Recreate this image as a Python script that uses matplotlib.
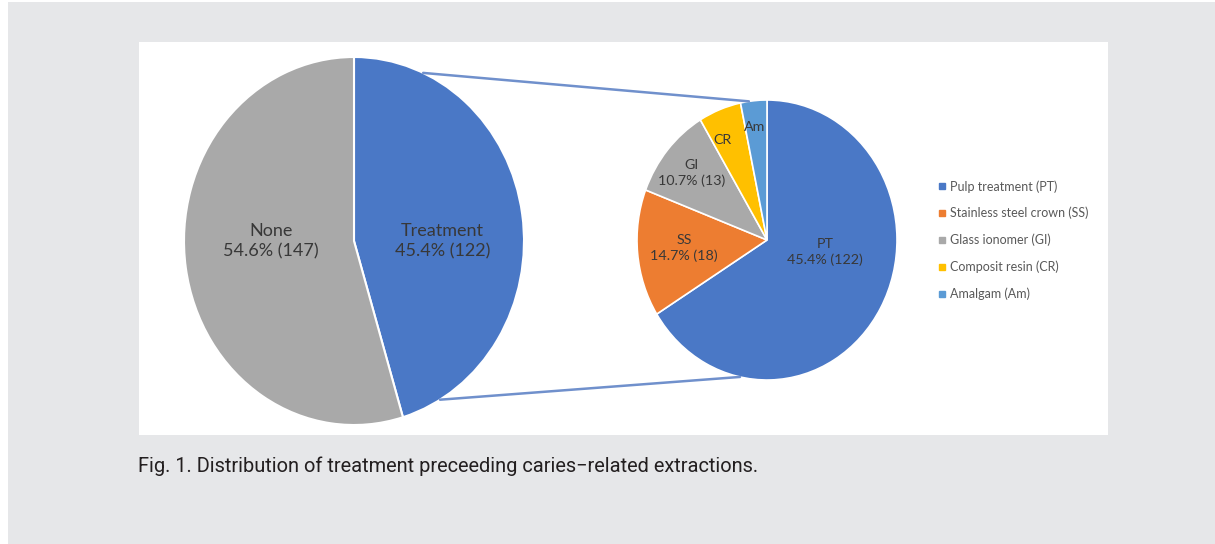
import numpy as np
import matplotlib
matplotlib.use('Agg')
import matplotlib.pyplot as plt
from matplotlib.patches import Rectangle, ConnectionPatch
from matplotlib.lines import Line2D

plt.rcParams['font.family'] = ['Lato', 'DejaVu Sans']

# data
main_labels = ['Treatment', 'None']
main_counts = [122, 147]
sub_labels = ['PT', 'SS', 'GI', 'CR', 'Am']
sub_sizes = [81, 18, 13, 6.5, 4]          # wedge sizes as drawn
sub_text = ['45.4% (122)', '14.7% (18)', '10.7% (13)', '', '']
legend_names = ['Pulp treatment (PT)', 'Stainless steel crown (SS)', 'Glass ionomer (GI)',
                'Composit resin (CR)', 'Amalgam (Am)']
caption = 'Fig. 1. Distribution of treatment preceeding caries\u2212related extractions.'

main_colors = ['#4a78c6', '#a9a9a9']
sub_colors = ['#4a78c6', '#ed7d31', '#a9a9a9', '#ffc000', '#5b9bd5']
txt_col = '#383838'

W, H = 1215, 544
fig = plt.figure(figsize=(W / 100, H / 100), dpi=100)
fig.patches.append(Rectangle((8 / W, 0), 1, 1 - 2 / H, transform=fig.transFigure,
                             facecolor='#e6e7e9', edgecolor='none', zorder=-2))
fig.patches.append(Rectangle((139 / W, 1 - 435 / H), (1108 - 139) / W, (435 - 42) / H,
                             transform=fig.transFigure, facecolor='white', edgecolor='none', zorder=-1))


def pie_axes(cx, cy, rx, ry):
    return fig.add_axes([(cx - rx) / W, 1 - (cy + ry) / H, 2 * rx / W, 2 * ry / H])


ax1 = pie_axes(354, 241, 170, 184)
ax1.pie(main_counts, colors=main_colors, startangle=90, counterclock=False, radius=1,
        wedgeprops=dict(edgecolor='white', linewidth=1.5))
ax1.set_aspect('auto')
ax1.set_xlim(-1, 1)
ax1.set_ylim(-1, 1)
ax1.axis('off')
total = sum(main_counts)
main_pos = [(0.52, 0.0), (-0.49, 0.0)]
for name, n, (x, y) in zip(main_labels, main_counts, main_pos):
    ax1.text(x, y, '%s\n%.1f%% (%d)' % (name, 100 * n / total, n), ha='center', va='center',
             fontsize=13, color=txt_col, linespacing=1.3)

ax2 = pie_axes(767, 240, 130, 140)
ax2.pie(sub_sizes, colors=sub_colors, startangle=90, counterclock=False, radius=1,
        wedgeprops=dict(edgecolor='white', linewidth=1.2))
ax2.set_aspect('auto')
ax2.set_xlim(-1, 1)
ax2.set_ylim(-1, 1)
ax2.axis('off')
sub_pos = [(0.446, -0.086), (-0.638, -0.057), (-0.577, 0.479), (-0.346, 0.714), (-0.092, 0.807)]
for name, t, (x, y) in zip(sub_labels, sub_text, sub_pos):
    s = name + ('\n' + t if t else '')
    ax2.text(x, y, s, ha='center', va='center', fontsize=10.3, color=txt_col, linespacing=1.3)

# connector lines
line_col = '#7090cc'
for a1, a2 in [(66, 98), (-59.6, -102)]:
    p1 = (np.cos(np.radians(a1)), np.sin(np.radians(a1)))
    p2 = (np.cos(np.radians(a2)), np.sin(np.radians(a2)))
    con = ConnectionPatch(xyA=p1, coordsA=ax1.transData, xyB=p2, coordsB=ax2.transData,
                          color=line_col, linewidth=1.8)
    fig.add_artist(con)

handles = [Line2D([], [], marker='s', linestyle='none', markersize=4.5, color=c) for c in sub_colors]
fig.legend(handles, legend_names, loc='upper left', bbox_to_anchor=(938 / W, 1 - 180 / H),
           frameon=False, fontsize=9, labelcolor='#595959', handlelength=0.7,
           handletextpad=0.3, labelspacing=1.15, borderpad=0, borderaxespad=0)

fig.text(138 / W, 1 - 466 / H, caption, ha='left', va='center', fontsize=14.4,
         color='#231f20', family=['Roboto', 'DejaVu Sans'])

fig.savefig('out.png', dpi=100)
